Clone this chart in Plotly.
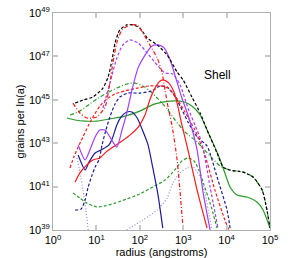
import plotly.graph_objects as go
import numpy as np

# ---- data: log10(radius / angstrom) and log10(grains per ln a) ----
total_lr = [0.51, 0.69, 0.92, 1.15, 1.27, 1.36, 1.43, 1.54, 1.70, 1.84, 2.00, 2.17, 2.40, 2.63, 2.86, 3.00, 3.20, 3.39, 3.55, 3.78, 3.92, 4.08, 4.38, 4.61, 4.82, 4.93, 5.00]
total_ln = [44.85, 44.99, 45.13, 45.54, 46.05, 46.83, 47.62, 48.22, 48.45, 48.45, 48.31, 47.85, 47.53, 47.06, 46.28, 45.91, 45.13, 44.39, 43.61, 42.55, 41.90, 41.76, 41.67, 41.44, 40.84, 39.92, 39.09]

red_dd_lr = [0.46, 0.62, 0.78, 1.01, 1.20, 1.31, 1.38, 1.47, 1.59, 1.77, 1.94, 2.07, 2.23, 2.40, 2.51, 2.58, 2.65, 2.74, 2.86, 3.00]
red_dd_ln = [44.85, 44.39, 44.16, 44.21, 44.67, 45.77, 46.70, 47.62, 48.22, 48.45, 48.45, 48.08, 47.53, 46.93, 46.28, 45.45, 44.67, 43.84, 42.23, 39.00]

purple_d_lr = [1.15, 1.27, 1.36, 1.47, 1.61, 1.77, 1.96, 2.17, 2.40, 2.58, 2.76, 2.93, 3.11, 3.27, 3.43, 3.62, 3.80]
purple_d_ln = [44.62, 45.45, 46.14, 46.93, 47.53, 47.76, 47.62, 47.16, 46.60, 46.24, 46.19, 45.68, 44.62, 43.84, 43.01, 40.98, 39.09]

purple_s_lr = [0.58, 0.74, 0.85, 0.97, 1.08, 1.20, 1.31, 1.47, 1.59, 1.70, 1.82, 1.96, 2.12, 2.28, 2.42, 2.56, 2.70, 2.83, 2.97, 3.11, 3.32, 3.46, 3.62]
purple_s_ln = [42.92, 42.23, 42.69, 43.29, 43.61, 43.61, 43.29, 42.82, 43.61, 44.39, 45.45, 46.47, 47.06, 47.48, 47.53, 47.39, 46.83, 46.00, 45.08, 44.30, 42.69, 40.71, 39.00]

red_s_lr = [0.51, 0.62, 0.78, 0.92, 1.08, 1.22, 1.38, 1.59, 1.80, 1.98, 2.12, 2.23, 2.35, 2.47, 2.56, 2.67, 2.79, 2.88, 2.97, 3.11, 3.32, 3.55]
red_s_ln = [41.21, 41.63, 42.00, 42.23, 42.32, 42.59, 42.82, 43.10, 43.42, 43.79, 44.30, 44.99, 45.54, 45.87, 45.91, 45.77, 45.36, 44.67, 43.84, 42.69, 40.84, 39.09]

navy_s_lr = [0.58, 0.74, 0.83, 0.97, 1.15, 1.29, 1.38, 1.47, 1.57, 1.70, 1.82, 1.94, 2.07, 2.19, 2.30, 2.42, 2.53]
navy_s_ln = [42.46, 41.77, 42.13, 42.55, 42.73, 42.92, 43.29, 43.84, 44.21, 44.44, 44.44, 44.16, 43.56, 42.92, 41.86, 40.61, 39.09]

navy_d_lr = [0.51, 0.65, 0.74, 0.81, 0.90, 0.97, 1.06, 1.13, 1.22, 1.31, 1.43, 1.54, 1.73, 2.00, 2.28, 2.47, 2.63, 2.76, 2.93, 3.11, 3.32, 3.55, 3.78, 4.01, 4.08]
navy_d_ln = [39.92, 39.97, 40.38, 40.98, 41.53, 41.90, 42.23, 42.92, 43.61, 44.21, 44.81, 45.13, 45.31, 45.31, 45.41, 45.64, 45.59, 45.31, 44.71, 43.98, 43.29, 42.87, 41.44, 39.92, 39.09]

red_d_lr = [0.39, 0.48, 0.58, 0.69, 0.81, 0.92, 1.08, 1.24, 1.43, 1.66, 1.94, 2.23, 2.47, 2.65, 2.83, 3.04, 3.27, 3.50, 3.73, 3.96, 4.05]
red_d_ln = [41.86, 42.36, 42.82, 43.29, 43.79, 44.21, 44.71, 45.04, 45.27, 45.41, 45.54, 45.64, 45.64, 45.54, 45.13, 44.44, 43.61, 42.46, 40.84, 39.46, 39.00]

green_s_lr = [0.32, 0.51, 0.74, 1.01, 1.31, 1.66, 2.00, 2.35, 2.70, 3.02, 3.20, 3.39, 3.55, 3.78, 3.92, 4.08, 4.24, 4.47, 4.70, 4.84, 5.00]
green_s_ln = [44.16, 44.07, 44.02, 44.02, 44.12, 44.25, 44.48, 44.81, 44.94, 44.90, 44.71, 44.30, 43.61, 42.59, 41.86, 40.98, 40.61, 40.52, 40.29, 39.92, 39.09]

green_dd_lr = [0.39, 0.58, 0.78, 1.01, 1.24, 1.47, 1.70, 1.89, 2.07, 2.23, 2.42, 2.63, 2.81, 3.04, 3.32, 3.62, 3.85, 4.08, 4.38, 4.61, 4.82, 4.93, 5.00]
green_dd_ln = [44.30, 44.44, 44.71, 45.04, 45.31, 45.54, 45.73, 45.77, 45.64, 45.41, 45.04, 44.58, 44.07, 43.52, 43.06, 42.41, 41.95, 41.76, 41.67, 41.44, 40.84, 39.92, 39.09]

green_d_lr = [0.46, 0.62, 0.78, 1.01, 1.20, 1.43, 1.70, 2.00, 2.30, 2.58, 2.81, 2.97, 3.11, 3.25, 3.36, 3.48, 3.62, 3.78]
green_d_ln = [40.71, 40.47, 40.24, 40.06, 40.11, 40.24, 40.43, 40.66, 40.98, 41.30, 41.77, 42.18, 42.32, 42.18, 41.77, 41.07, 40.24, 39.09]

blue_dot1_lr = [0.55, 0.62, 0.69, 0.76, 0.81]
blue_dot1_ln = [42.32, 41.67, 40.84, 39.92, 39.00]

blue_dot2_lr = [1.70, 2.07, 2.40, 2.63, 2.76, 2.93, 3.09, 3.23, 3.39, 3.50, 3.62, 3.66]
blue_dot2_ln = [39.00, 39.46, 39.92, 40.47, 41.17, 41.63, 41.86, 41.90, 41.44, 40.71, 39.46, 39.00]

x_tick_exp = [0, 1, 2, 3, 4, 5]
y_tick_exp = [39, 41, 43, 45, 47, 49]

RED = "#ff1a1a"
PURPLE = "#a040ff"
NAVY = "#1c1c96"
GREEN = "#2a9a2a"
LBLUE = "#8c8ce6"

DASH = "3px,2px"
DASHDOT = "4px,2px,1px,2px"
DOT = "1px,2px"

series = [
    (green_d_lr, green_d_ln, GREEN, DASH),
    (blue_dot1_lr, blue_dot1_ln, LBLUE, DOT),
    (blue_dot2_lr, blue_dot2_ln, LBLUE, DOT),
    (green_s_lr, green_s_ln, GREEN, "solid"),
    (green_dd_lr, green_dd_ln, GREEN, DASHDOT),
    (navy_s_lr, navy_s_ln, NAVY, "solid"),
    (navy_d_lr, navy_d_ln, NAVY, DASH),
    (red_d_lr, red_d_ln, RED, DASH),
    (red_s_lr, red_s_ln, RED, "solid"),
    (purple_s_lr, purple_s_ln, PURPLE, "solid"),
    (purple_d_lr, purple_d_ln, PURPLE, DASH),
    (total_lr, total_ln, "black", DASH),
    (red_dd_lr, red_dd_ln, RED, DASHDOT),
]

fig = go.Figure()
for lr, ln, color, dash in series:
    fig.add_trace(go.Scatter(
        x=np.power(10.0, np.array(lr, dtype=float)),
        y=np.power(10.0, np.array(ln, dtype=float)),
        mode="lines", line=dict(color=color, dash=dash, width=1.2, shape="spline", smoothing=0.6),
        showlegend=False, hoverinfo="skip"))

font = dict(family="Liberation Sans, Arial", size=11, color="black")
axis_common = dict(
    type="log", showgrid=False, zeroline=False, showline=True, mirror="ticks",
    linecolor="#b0b0b0", linewidth=1, ticks="inside", ticklen=5, tickwidth=1.5,
    tickcolor="#c8c8c8", tickfont=font, automargin=False,
)

fig.update_xaxes(
    **axis_common, range=[0, 5],
    tickvals=[float(10.0 ** e) for e in x_tick_exp],
    ticktext=[f"10<sup>{e}</sup>" for e in x_tick_exp],
    title=dict(text="radius (angstroms)", font=dict(family="Liberation Sans, Arial", size=11, color="black"), standoff=0),
)
fig.update_yaxes(
    **axis_common, range=[39, 49],
    tickvals=[float(10.0 ** e) for e in y_tick_exp],
    ticktext=[f"10<sup>{e}</sup>" for e in y_tick_exp],
    title=dict(text="grains per ln(a)", font=dict(family="Liberation Sans, Arial", size=11, color="black"), standoff=2),
)

fig.add_annotation(x=3.8, y=46.14, xref="x", yref="y", text="Shell", showarrow=False,
                   font=dict(family="Liberation Sans, Arial", size=12, color="black"))

fig.update_layout(
    width=293, height=258,
    margin=dict(l=53, r=23, t=13, b=28),
    paper_bgcolor="white", plot_bgcolor="white",
)

fig.write_html("out.html", config={"displayModeBar": False},
               post_script="document.body.style.margin='0px';")
